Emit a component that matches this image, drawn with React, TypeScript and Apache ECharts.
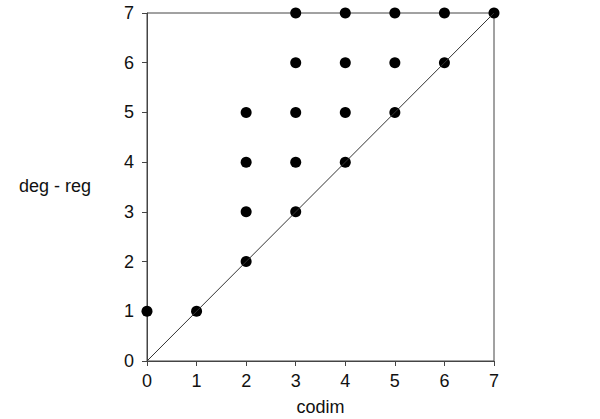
import React, { useEffect, useRef } from "react";
import * as echarts from "echarts";

const codim = [0, 1, 2, 2, 2, 2, 3, 3, 3, 3, 3, 4, 4, 4, 4, 5, 5, 5, 6, 6, 7];
const degReg = [1, 1, 2, 3, 4, 5, 3, 4, 5, 6, 7, 4, 5, 6, 7, 5, 6, 7, 6, 7, 7];
const diagonal = [
  [0, 0],
  [7, 7],
];

export default function App() {
  const ref = useRef<HTMLDivElement>(null);
  useEffect(() => {
    if (!ref.current) return;
    const chart = echarts.init(ref.current, undefined, { renderer: "svg" });
    const font = "Liberation Sans, Arial, sans-serif";
    const axisCommon = {
      type: "value" as const,
      min: 0,
      max: 7,
      interval: 1,
      splitLine: { show: false },
      axisLine: { show: true, lineStyle: { color: "#444", width: 1 } },
      axisTick: { show: true, inside: false, length: 5, lineStyle: { color: "#444" } },
      axisLabel: { color: "#111", fontSize: 18, fontFamily: font },
    };
    chart.setOption({
      animation: false,
      backgroundColor: "#fff",
      grid: {
        left: 147,
        right: 106,
        top: 13,
        bottom: 58,
        show: true,
        borderColor: "#444",
        borderWidth: 1,
        containLabel: false,
        outerBoundsMode: "none",
      },
      xAxis: {
        ...axisCommon,
        axisLabel: { ...axisCommon.axisLabel, margin: 11 },
        name: "codim",
        nameLocation: "middle",
        nameGap: 37,
        nameTextStyle: { color: "#111", fontSize: 18, fontFamily: font },
      },
      yAxis: {
        ...axisCommon,
        axisLabel: { ...axisCommon.axisLabel, margin: 13 },
      },
      graphic: [
        {
          type: "text",
          left: 19,
          top: 177,
          style: { text: "deg - reg", fill: "#111", fontSize: 18, fontFamily: font },
        },
      ],
      series: [
        {
          type: "line",
          data: diagonal,
          symbol: "none",
          lineStyle: { color: "#333", width: 1 },
          silent: true,
        },
        {
          type: "scatter",
          data: codim.map((c, i) => [c, degReg[i]]),
          symbol: "circle",
          symbolSize: 11,
          itemStyle: { color: "#000", opacity: 1 },
        },
      ],
    });
    return () => chart.dispose();
  }, []);
  return <div ref={ref} style={{ width: 600, height: 419, position: "absolute", left: 0, top: 0 }} />;
}
